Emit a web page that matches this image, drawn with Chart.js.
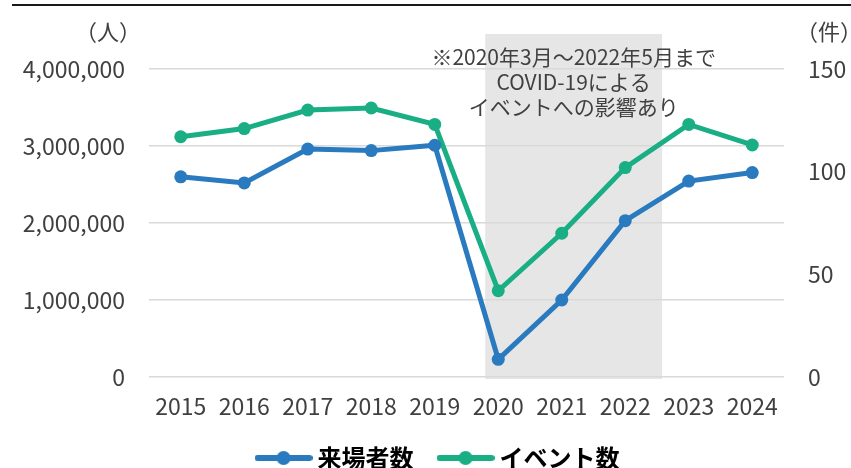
<!DOCTYPE html>
<html><head><meta charset="utf-8">
<script src="https://cdn.jsdelivr.net/npm/chart.js@4/dist/chart.umd.min.js"></script>
<style>html,body{margin:0;padding:0;background:#fff}canvas{display:block}</style>
</head><body>
<canvas id="c" width="851" height="468"></canvas>
<script>
const years = ['2015','2016','2017','2018','2019','2020','2021','2022','2023','2024'];
const visitors = [2600000, 2520000, 2960000, 2940000, 3010000, 230000, 1000000, 2030000, 2545000, 2655000];
const events = [117, 121, 130, 131, 123, 42, 70, 102, 123, 113];
const leftTicks = [0, 1000000, 2000000, 3000000, 4000000];
const rightTicks = [0, 50, 100, 150];
const seriesNames = ['来場者数', 'イベント数'];
const leftUnit = '（人）';
const rightUnit = '（件）';
// COVID period, in category-index units (Mar 2020 – May 2022)
const covidFrom = 4.795;
const covidTo = 7.58;
const noteLines = ['※2020年3月～2022年5月まで', 'COVID-19による', 'イベントへの影響あり'];

const BLUE = '#2a7abf';
const GREEN = '#1aae85';
const FONT = "'Noto Sans CJK JP', 'Noto Sans', sans-serif";

function marker(color) {
  const cv = document.createElement('canvas');
  cv.width = 58; cv.height = 18;
  const g = cv.getContext('2d');
  g.strokeStyle = color; g.lineWidth = 6; g.lineCap = 'round';
  g.beginPath(); g.moveTo(3, 9); g.lineTo(55, 9); g.stroke();
  g.fillStyle = color;
  g.beginPath(); g.arc(29, 9, 7, 0, Math.PI * 2); g.fill();
  return cv;
}

const decor = {
  id: 'decor',
  afterLayout(chart) {
    const lg = chart.legend;
    if (lg) {
      const dx = 15;
      lg.left += dx; lg.right += dx;
      lg.top = 416; lg.height = 52; lg.bottom = 468;
    }
  },
  beforeDraw(chart) {
    const {ctx, chartArea, scales} = chart;
    const x = scales.x;
    ctx.save();
    ctx.fillStyle = '#fff';
    ctx.fillRect(0, 0, chart.width, chart.height);
    const x0 = x.getPixelForValue(covidFrom);
    const x1 = x.getPixelForValue(covidTo);
    const top = chartArea.top - 35;
    ctx.fillStyle = '#e6e6e6';
    ctx.fillRect(x0, top, x1 - x0, chartArea.bottom + 2 - top);
    ctx.strokeStyle = '#1a1a1a';
    ctx.lineWidth = 2;
    ctx.beginPath(); ctx.moveTo(12, 5); ctx.lineTo(chart.width, 5); ctx.stroke();
    ctx.restore();
  },
  afterDraw(chart) {
    const {ctx, chartArea, scales} = chart;
    const x = scales.x;
    ctx.save();
    ctx.fillStyle = '#404040';
    ctx.font = '22px ' + FONT;
    ctx.textBaseline = 'middle';
    ctx.textAlign = 'right';
    ctx.fillText(leftUnit, 141, chartArea.top - 37);
    ctx.textAlign = 'left';
    ctx.fillText(rightUnit, 796, chartArea.top - 37);
    const cx = (x.getPixelForValue(covidFrom) + x.getPixelForValue(covidTo)) / 2;
    ctx.textAlign = 'center';
    ctx.font = '21px ' + FONT;
    noteLines.forEach((t, i) => ctx.fillText(t, cx, chartArea.top - 12 + i * 25));
    ctx.restore();
  }
};

new Chart(document.getElementById('c'), {
  type: 'line',
  data: {
    labels: years,
    datasets: [
      {label: seriesNames[0], data: visitors, yAxisID: 'y', borderColor: BLUE, backgroundColor: BLUE,
       borderWidth: 5, pointRadius: 6.5, pointHoverRadius: 6.5, pointBackgroundColor: BLUE, pointBorderWidth: 0, tension: 0},
      {label: seriesNames[1], data: events, yAxisID: 'y1', borderColor: GREEN, backgroundColor: GREEN,
       borderWidth: 5, pointRadius: 6.5, pointHoverRadius: 6.5, pointBackgroundColor: GREEN, pointBorderWidth: 0, tension: 0}
    ]
  },
  options: {
    responsive: false,
    animation: false,
    devicePixelRatio: 1,
    layout: {padding: {top: 69, right: 0, left: 0, bottom: 0}},
    plugins: {
      tooltip: {enabled: false},
      legend: {
        position: 'bottom',
        maxHeight: 40,
        labels: {
          usePointStyle: true,
          pointStyleWidth: 44,
          padding: 30,
          color: '#000',
          font: {family: FONT, size: 24, weight: 'bold'},
          generateLabels(chart) {
            return chart.data.datasets.map((d, i) => ({
              text: d.label, pointStyle: marker(d.borderColor), fillStyle: d.borderColor,
              strokeStyle: d.borderColor, lineWidth: 0, hidden: false, datasetIndex: i, fontColor: '#000'
            }));
          }
        }
      }
    },
    scales: {
      x: {
        offset: true,
        grid: {display: false, drawTicks: false},
        border: {display: false},
        ticks: {color: '#404040', font: {family: FONT, size: 23}, padding: 15, maxRotation: 0, autoSkip: false},
        afterFit(s) { s.height = 51; }
      },
      y: {
        position: 'left',
        min: 0, max: 4000000,
        afterBuildTicks(s) { s.ticks = leftTicks.map(v => ({value: v})); },
        grid: {color: '#d9d9d9', lineWidth: 1.5, drawTicks: false},
        border: {display: false},
        ticks: {color: '#404040', font: {family: FONT, size: 23}, padding: 24,
          callback: v => v.toLocaleString('en-US')},
        afterFit(s) { s.width = 149; }
      },
      y1: {
        position: 'right',
        min: 0, max: 150,
        afterBuildTicks(s) { s.ticks = rightTicks.map(v => ({value: v})); },
        grid: {display: false, drawTicks: false},
        border: {display: false},
        ticks: {color: '#404040', font: {family: FONT, size: 23}, padding: 24},
        afterFit(s) { s.width = 67; }
      }
    }
  },
  plugins: [decor]
});
</script>
</body></html>
